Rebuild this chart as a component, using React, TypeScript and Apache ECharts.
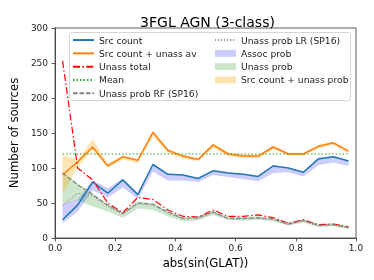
import React, { useEffect, useRef } from "react";
import * as echarts from "echarts";

const XS = [0.025, 0.075, 0.125, 0.175, 0.225, 0.275, 0.325, 0.375, 0.425, 0.475, 0.525, 0.575, 0.625, 0.675, 0.725, 0.775, 0.825, 0.875, 0.925, 0.975];
const SRC_COUNT = [26, 47, 80, 64, 83, 62, 105, 91, 90, 85, 96, 93, 91, 88, 103, 100, 94, 113, 116, 110];
const SRC_PLUS_UNASS_AV = [90, 109, 130, 103, 116, 111, 151, 125, 117, 112, 133, 120, 117, 117, 130, 120, 120, 131, 136, 124];
const UNASS_TOTAL = [253, 100, 83, 50, 36, 58, 55, 40, 31, 30, 40, 31, 31, 33, 29, 21, 26, 19, 20, 16];
const MEAN = 120;
const UNASS_RF = [93, 76, 62, 47, 35, 50, 48, 37, 28, 29, 37, 28, 28, 29, 27, 20, 25, 18, 19, 15];
const UNASS_LR = [46, 64, 60, 45, 34, 49, 47, 36, 27, 28, 36, 27, 27, 28, 26, 19, 24, 17, 18, 14];
const ASSOC_LOW = [21, 38, 68, 58, 72, 56, 95, 82, 82, 80, 90, 87, 84, 81, 93, 94, 88, 104, 108, 103];
const ASSOC_HIGH = [49, 55, 82, 71, 85, 64, 106, 92, 91, 86, 97, 94, 92, 89, 104, 101, 95, 115, 117, 111];
const UNASS_LOW = [49, 54, 45, 38, 29, 42, 40, 31, 24, 25, 33, 26, 25, 26, 24, 18, 22, 16, 17, 13];
const UNASS_HIGH = [94, 78, 64, 48, 37, 52, 50, 39, 30, 31, 39, 30, 30, 31, 29, 22, 27, 20, 21, 17];
const SRCP_LOW = [63, 101, 126, 100, 112, 107, 145, 121, 113, 110, 129, 117, 114, 114, 127, 118, 118, 128, 133, 121];
const SRCP_HIGH = [119, 112, 141, 107, 118, 113, 153, 128, 119, 114, 135, 123, 119, 119, 132, 122, 122, 133, 138, 126];
const X_TICKS = [0, 0.2, 0.4, 0.6, 0.8, 1.0];

const FONT = "DejaVu Sans";

function band(name: string, lo: number[], hi: number[], color: string) {
  return {
    type: "custom",
    name,
    data: XS.map((x, i) => [x, lo[i], hi[i]]),
    itemStyle: { color },
    z: 1,
    renderItem: (params: any, api: any) => {
      if (params.dataIndex !== 0) return null;
      const top = XS.map((x, i) => api.coord([x, hi[i]]));
      const bot = XS.map((x, i) => api.coord([x, lo[i]])).reverse();
      return {
        type: "polygon",
        shape: { points: top.concat(bot) },
        style: { fill: color, stroke: "none" },
      };
    },
  };
}

function line(name: string, ys: number[], color: string, type: any, width = 1.5) {
  return {
    type: "line",
    name,
    data: XS.map((x, i) => [x, ys[i]]),
    symbol: "none",
    z: 3,
    lineStyle: { color, width, type },
    itemStyle: { color },
  };
}

const lineItem = (name: string) => ({ name, itemStyle: { color: "transparent", borderColor: "transparent", borderWidth: 0, opacity: 0 } });

export default function App() {
  const ref = useRef<HTMLDivElement>(null);
  useEffect(() => {
    const chart = echarts.init(ref.current!, null, { renderer: "svg" });
    const legendCommon = {
      orient: "vertical",
      itemWidth: 21,
      itemHeight: 7,
      itemGap: 0,
      padding: 0,
      textStyle: { fontFamily: FONT, fontSize: 9.2, color: "#222", lineHeight: 13.3 },
      selectedMode: false,
    };
    chart.setOption({
      animation: false,
      title: {
        text: "3FGL AGN (3-class)",
        left: 202.5,
        top: 10,
        textAlign: "center",
        textStyle: { fontFamily: FONT, fontSize: 14, fontWeight: "normal", color: "#000" },
      },
      grid: { left: 49, right: 18, top: 28, bottom: 42, show: true, borderColor: "#333", borderWidth: 0.8, backgroundColor: "transparent" },
      xAxis: {
        type: "value",
        min: 0,
        max: 1,
        interval: 0.2,
        name: "abs(sin(GLAT))",
        nameLocation: "middle",
        nameGap: 16,
        nameTextStyle: { fontFamily: FONT, fontSize: 11.7, color: "#000" },
        axisLine: { lineStyle: { color: "#333", width: 0.8 } },
        axisTick: { show: true, length: 3.5, lineStyle: { color: "#333", width: 0.8 } },
        axisLabel: { fontFamily: FONT, fontSize: 9, color: "#222", margin: 5, formatter: (v: number) => (X_TICKS.includes(Math.round(v * 10) / 10) ? v.toFixed(1) : "") },
        splitLine: { show: false },
      },
      yAxis: {
        type: "value",
        min: 0,
        max: 300,
        interval: 50,
        name: "Number of sources",
        nameLocation: "middle",
        nameGap: 27,
        nameTextStyle: { fontFamily: FONT, fontSize: 11.7, color: "#000" },
        axisLine: { show: true, lineStyle: { color: "#333", width: 0.8 } },
        axisTick: { show: true, length: 3.5, lineStyle: { color: "#333", width: 0.8 } },
        axisLabel: { fontFamily: FONT, fontSize: 9, color: "#222", margin: 7 },
        splitLine: { show: false },
      },
      legend: [
        {
          ...legendCommon,
          left: 72,
          top: 33.4,
          data: ["Src count", "Src count + unass av", "Unass total", "Mean", "Unass prob RF (SP16)"].map(lineItem),
        },
        {
          ...legendCommon,
          left: 214,
          top: 33.4,
          data: [
            lineItem("Unass prob LR (SP16)"),
            { name: "Assoc prob", icon: "rect" },
            { name: "Unass prob", icon: "rect" },
            { name: "Src count + unass prob", icon: "rect" },
          ],
        },
      ],
      graphic: [
        {
          type: "rect",
          shape: { x: 69.5, y: 32.5, width: 281, height: 68, r: 2 },
          style: { fill: "rgba(255,255,255,0.8)", stroke: "#cccccc", lineWidth: 0.8 },
          z: 0,
          zlevel: 0,
        },
      ],
      series: [
        band("Assoc prob", ASSOC_LOW, ASSOC_HIGH, "rgba(0,0,255,0.2)"),
        band("Unass prob", UNASS_LOW, UNASS_HIGH, "rgba(0,128,0,0.2)"),
        band("Src count + unass prob", SRCP_LOW, SRCP_HIGH, "rgba(255,165,0,0.3)"),
        line("Src count", SRC_COUNT, "#1f77b4", "solid"),
        line("Src count + unass av", SRC_PLUS_UNASS_AV, "#ff7f0e", "solid"),
        line("Unass total", UNASS_TOTAL, "#ff0000", [7, 2.4, 1.5, 2.4], 1.2),
        line("Mean", XS.map(() => MEAN), "#2ca02c", [1.5, 2], 1.2),
        line("Unass prob RF (SP16)", UNASS_RF, "#808080", [4.5, 2], 1.2),
        line("Unass prob LR (SP16)", UNASS_LR, "#999999", [1.2, 1.8], 1.2),
      ],
    });
    return () => chart.dispose();
  }, []);
  return <div ref={ref} style={{ position: "fixed", left: 0, top: 0, width: 374, height: 280 }} />;
}
